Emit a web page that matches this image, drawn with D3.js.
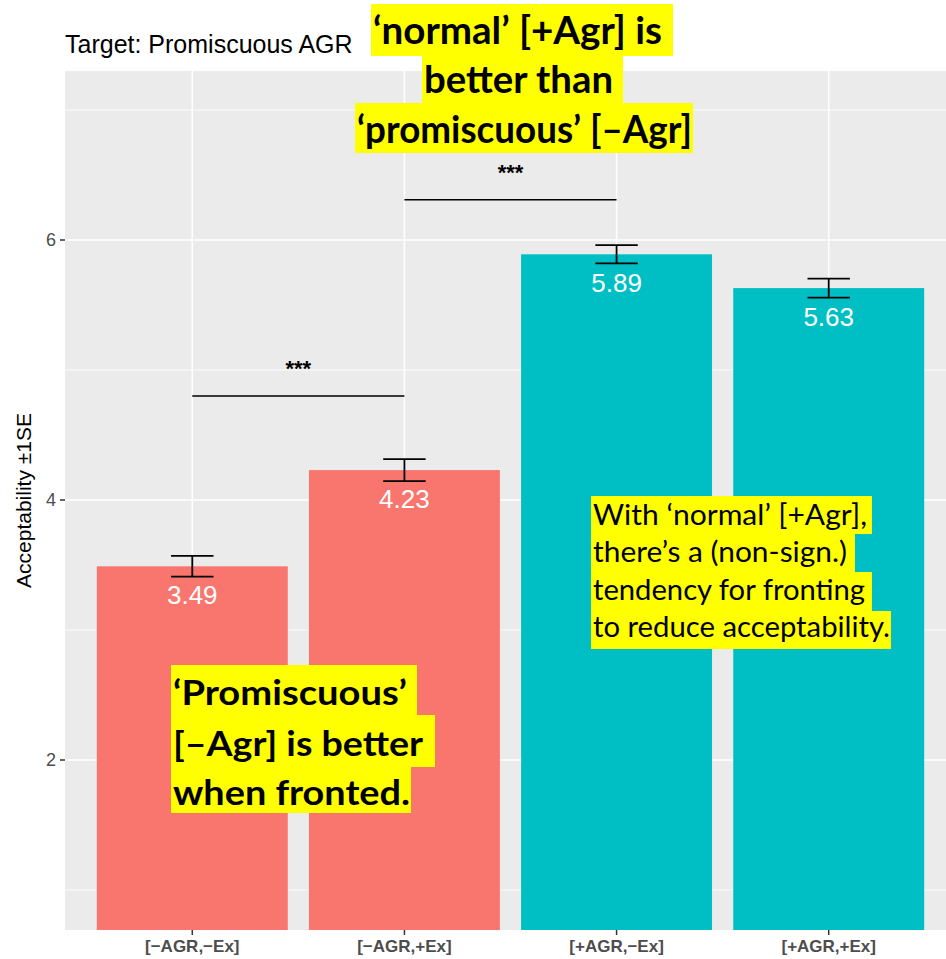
<!DOCTYPE html>
<html>
<head>
<meta charset="utf-8">
<script src="https://cdnjs.cloudflare.com/ajax/libs/d3/7.8.5/d3.min.js"></script>
<style>
  body { margin: 0; background: #fff; }
  svg text { font-family: "Liberation Sans", Arial, Helvetica, sans-serif; }
  .note { font-family: Lato, "Open Sans", sans-serif !important; fill: #000; }
</style>
</head>
<body>
<svg id="chart" width="946" height="959"></svg>
<script>
// data
var categories = ["[\u2212AGR,\u2212Ex]", "[\u2212AGR,+Ex]", "[+AGR,\u2212Ex]", "[+AGR,+Ex]"];
var agr = ["-", "-", "+", "+"];
var means = [3.49, 4.23, 5.89, 5.63];
var se = [0.08, 0.085, 0.07, 0.073];
var major_ticks = [2, 4, 6];
var minor_ticks = [1, 3, 5, 7];
var sig_from = [0, 1], sig_to = [1, 2], sig_y = [4.8, 6.31], sig_label = ["***", "***"];

var note_top = ["\u2018normal\u2019 [+Agr] is", "better than", "\u2018promiscuous\u2019 [\u2013Agr]"];
var note_left = ["\u2018Promiscuous\u2019", "[\u2013Agr] is better", "when fronted."];
var note_right = ["With \u2018normal\u2019 [+Agr],", "there\u2019s a (non-sign.)", "tendency for fronting", "to reduce acceptability."];

var colors = {"-": "#F8766D", "+": "#00BFC4"};

var panel = {left: 65, right: 956, top: 71, bottom: 930};

var svg = d3.select("#chart");

var x = d3.scalePoint()
  .domain(d3.range(categories.length))
  .range([panel.left, panel.right])
  .padding(0.6);

var bar_w = x.step() * 0.9;

var y = d3.scaleLinear()
  .domain([0.6923, 7.3])
  .range([panel.bottom, panel.top]);

svg.append("clipPath").attr("id", "clip")
  .append("rect")
    .attr("x", panel.left).attr("y", panel.top)
    .attr("width", panel.right - panel.left).attr("height", panel.bottom - panel.top);

// panel background
svg.append("rect")
  .attr("x", panel.left).attr("y", panel.top)
  .attr("width", panel.right - panel.left).attr("height", panel.bottom - panel.top)
  .attr("fill", "#EBEBEB");

var grid = svg.append("g").attr("clip-path", "url(#clip)");

grid.selectAll(".minor").data(minor_ticks)
  .enter().append("line")
    .attr("x1", panel.left).attr("x2", panel.right)
    .attr("y1", y).attr("y2", y)
    .attr("stroke", "#fff").attr("stroke-width", 0.8);

grid.selectAll(".major").data(major_ticks)
  .enter().append("line")
    .attr("x1", panel.left).attr("x2", panel.right)
    .attr("y1", y).attr("y2", y)
    .attr("stroke", "#fff").attr("stroke-width", 1.6);

grid.selectAll(".vmajor").data(d3.range(categories.length))
  .enter().append("line")
    .attr("x1", x).attr("x2", x)
    .attr("y1", panel.top).attr("y2", panel.bottom)
    .attr("stroke", "#fff").attr("stroke-width", 1.6);

// bars
var plot = svg.append("g").attr("clip-path", "url(#clip)");

plot.selectAll(".bar").data(means)
  .enter().append("rect")
    .attr("x", function(d, i){ return x(i) - bar_w / 2; })
    .attr("width", bar_w)
    .attr("y", function(d){ return y(d); })
    .attr("height", function(d){ return y(0) - y(d); })
    .attr("fill", function(d, i){ return colors[agr[i]]; });

// error bars
var cap = x.step() * 0.2;
var eb = plot.selectAll(".err").data(means)
  .enter().append("g")
    .attr("stroke", "#000").attr("stroke-width", 1.8);
eb.append("line")
  .attr("x1", function(d, i){ return x(i); }).attr("x2", function(d, i){ return x(i); })
  .attr("y1", function(d, i){ return y(d + se[i]); }).attr("y2", function(d, i){ return y(d - se[i]); });
eb.append("line")
  .attr("x1", function(d, i){ return x(i) - cap / 2; }).attr("x2", function(d, i){ return x(i) + cap / 2; })
  .attr("y1", function(d, i){ return y(d + se[i]); }).attr("y2", function(d, i){ return y(d + se[i]); });
eb.append("line")
  .attr("x1", function(d, i){ return x(i) - cap / 2; }).attr("x2", function(d, i){ return x(i) + cap / 2; })
  .attr("y1", function(d, i){ return y(d - se[i]); }).attr("y2", function(d, i){ return y(d - se[i]); });

// value labels
plot.selectAll(".val").data(means)
  .enter().append("text")
    .attr("x", function(d, i){ return x(i); })
    .attr("y", function(d){ return y(d) + 38; })
    .attr("text-anchor", "middle")
    .attr("fill", "#fff")
    .style("font-size", "26px")
    .text(function(d){ return d.toFixed(2); });

// significance brackets
sig_y.forEach(function(v, i){
  plot.append("line")
    .attr("x1", x(sig_from[i])).attr("x2", x(sig_to[i]))
    .attr("y1", y(v)).attr("y2", y(v))
    .attr("stroke", "#000").attr("stroke-width", 1.5);
  plot.append("text")
    .attr("x", (x(sig_from[i]) + x(sig_to[i])) / 2)
    .attr("y", y(v) - 20)
    .attr("text-anchor", "middle")
    .style("font-size", "22px").style("font-weight", "bold")
    .text(sig_label[i]);
});

// axes
var axis_col = "#4D4D4D";
svg.selectAll(".ytick").data(major_ticks)
  .enter().append("line")
    .attr("x1", panel.left - 5).attr("x2", panel.left)
    .attr("y1", y).attr("y2", y)
    .attr("stroke", "#333").attr("stroke-width", 1.5);
svg.selectAll(".ylab").data(major_ticks)
  .enter().append("text")
    .attr("x", panel.left - 9)
    .attr("y", function(d){ return y(d) + 6.5; })
    .attr("text-anchor", "end")
    .attr("fill", axis_col)
    .style("font-size", "18px")
    .text(function(d){ return d; });

svg.selectAll(".xtick").data(d3.range(categories.length))
  .enter().append("line")
    .attr("x1", x).attr("x2", x)
    .attr("y1", panel.bottom).attr("y2", panel.bottom + 5)
    .attr("stroke", "#333").attr("stroke-width", 1.5);
svg.selectAll(".xlab").data(categories)
  .enter().append("text")
    .attr("x", function(d, i){ return x(i); })
    .attr("y", panel.bottom + 22)
    .attr("text-anchor", "middle")
    .attr("fill", axis_col)
    .style("font-size", "17px").style("font-weight", "bold")
    .text(function(d){ return d; });

svg.append("text")
  .attr("transform", "translate(" + 31 + "," + ((panel.top + panel.bottom) / 2) + ") rotate(-90)")
  .attr("text-anchor", "middle")
  .style("font-size", "21px")
  .text("Acceptability \u00b11SE");

svg.append("text")
  .attr("x", panel.left).attr("y", 53)
  .style("font-size", "25px")
  .text("Target: Promiscuous AGR");

// highlighted notes
function drawNote(lines, spec){
  var g = svg.append("g");
  lines.forEach(function(t, i){
    var b = spec.boxes[i];
    g.append("rect")
      .attr("x", b[0]).attr("y", b[1]).attr("width", b[2]).attr("height", b[3])
      .attr("fill", "#FFFF00");
  });
  lines.forEach(function(t, i){
    var b = spec.boxes[i];
    g.append("text")
      .attr("class", "note")
      .attr("x", b[0] + 2)
      .attr("y", b[1] + spec.base[i])
      .attr("textLength", spec.tw[i])
      .attr("lengthAdjust", "spacingAndGlyphs")
      .style("font-size", spec.size + "px")
      .style("font-weight", spec.weight)
      .text(t);
  });
}

drawNote(note_top, {
  boxes: [[371, 4, 302, 52], [422, 55, 201, 49], [355, 103, 338, 50]],
  base: [40, 38, 40], tw: [289, 189, 335], size: 38, weight: 700
});
drawNote(note_left, {
  boxes: [[171, 665, 246, 51], [171, 715, 264, 52], [171, 766, 240, 47]],
  base: [40, 41, 39], tw: [234, 250, 237], size: 34, weight: 700
});
drawNote(note_right, {
  boxes: [[591, 496, 281, 38], [591, 533, 264, 40], [591, 572, 281, 40], [591, 611, 300, 38]],
  base: [29, 29, 28, 26], tw: [274, 254, 272, 297], size: 29, weight: 400
});
</script>
</body>
</html>
